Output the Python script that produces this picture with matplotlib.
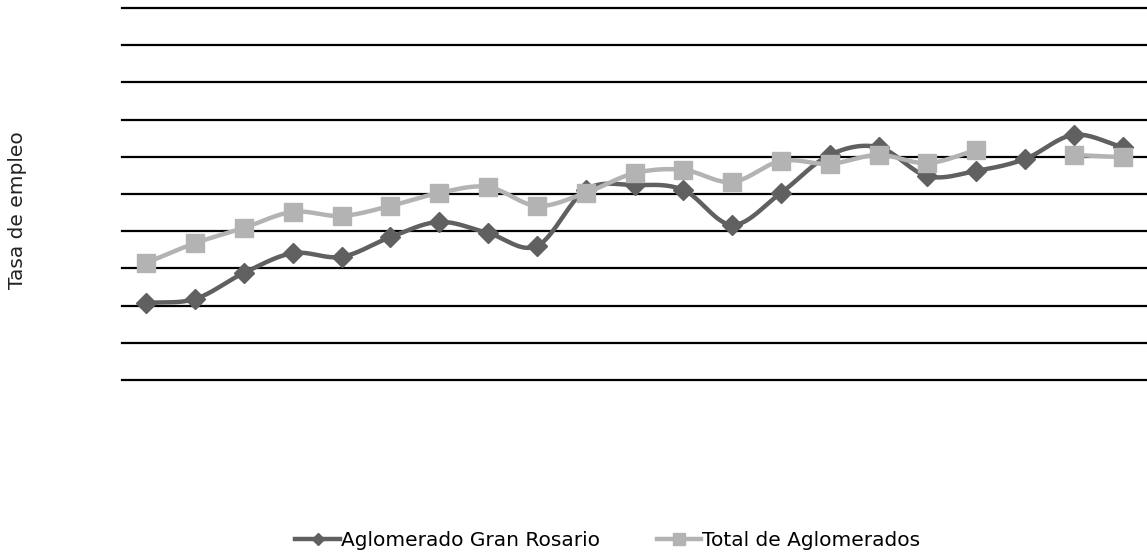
import numpy as np
import matplotlib
matplotlib.use("Agg")
import matplotlib.pyplot as plt
from matplotlib.lines import Line2D

# ---- data (no axis labels shown) ----
periods = list(range(1, 22))
gran_rosario = [37.07, 37.18, 37.88, 38.41, 38.31, 38.84, 39.25, 38.95, 38.60,
                40.11, 40.24, 40.11, 39.17, 40.03, 41.05, 41.26, 40.48, 40.62,
                40.94, 41.59, 41.26]
total_aglom = [38.15, 38.68, 39.09, 39.52, 39.41, 39.68, 40.03, 40.19, 39.68,
               40.03, 40.56, 40.65, 40.32, 40.89, 40.81, 41.05, 40.83, 41.18,
               np.nan, 41.05, 40.99]
y_ticks = list(range(35, 46))
series_names = ["Aglomerado Gran Rosario", "Total de Aglomerados"]

FONT = "DejaVu Sans"


def smooth(xs, ys, n=20):
    """Smoothed line through the points (cubic Bezier segments)."""
    xs = np.asarray(xs, float)
    ys = np.asarray(ys, float)
    out_x, out_y = [], []
    seg = []
    segs = []
    for xv, yv in zip(xs, ys):
        if np.isnan(yv):
            if seg:
                segs.append(seg)
            seg = []
        else:
            seg.append((xv, yv))
    if seg:
        segs.append(seg)
    for s in segs:
        px = np.array([p[0] for p in s])
        py = np.array([p[1] for p in s])
        if len(px) < 2:
            continue
        ext_x = np.concatenate([[2 * px[0] - px[1]], px, [2 * px[-1] - px[-2]]])
        ext_y = np.concatenate([[2 * py[0] - py[1]], py, [2 * py[-1] - py[-2]]])
        sx, sy = [], []
        for i in range(1, len(ext_x) - 2):
            p0x, p1x, p2x, p3x = ext_x[i - 1:i + 3]
            p0y, p1y, p2y, p3y = ext_y[i - 1:i + 3]
            t = np.linspace(0, 1, n, endpoint=False)
            c1x = p1x + (p2x - p0x) / 6
            c1y = p1y + (p2y - p0y) / 6
            c2x = p2x - (p3x - p1x) / 6
            c2y = p2y - (p3y - p1y) / 6
            bx = (1 - t) ** 3 * p1x + 3 * (1 - t) ** 2 * t * c1x + 3 * (1 - t) * t ** 2 * c2x + t ** 3 * p2x
            by = (1 - t) ** 3 * p1y + 3 * (1 - t) ** 2 * t * c1y + 3 * (1 - t) * t ** 2 * c2y + t ** 3 * p2y
            sx.extend(bx)
            sy.extend(by)
        sx.append(px[-1])
        sy.append(py[-1])
        out_x.append(np.array(sx))
        out_y.append(np.array(sy))
    return out_x, out_y


fig = plt.figure(figsize=(11.47, 5.58), dpi=100)
ax = fig.add_axes([122 / 1147, 1 - 380 / 558, 1025 / 1147, 372 / 558])

x = np.arange(len(periods))
dark = "#606060"
light = "#b3b3b3"

for sx, sy in zip(*smooth(x, gran_rosario)):
    ax.plot(sx, sy, color=dark, lw=3.2, solid_capstyle="round", zorder=3)
ax.plot(x, gran_rosario, linestyle="none", marker="D", ms=10.5, color=dark,
        mec=dark, zorder=4)

for sx, sy in zip(*smooth(x, total_aglom)):
    ax.plot(sx, sy, color=light, lw=3.2, solid_capstyle="round", zorder=5)
ax.plot(x, total_aglom, linestyle="none", marker="s", ms=13, color=light,
        mec=light, zorder=6)

ax.set_xlim(-0.5, len(periods) - 0.5)
ax.set_ylim(y_ticks[0], y_ticks[-1])
for yv in y_ticks:
    ax.axhline(yv, color="black", lw=1.6, zorder=1, clip_on=False)
ax.set_xticks([])
ax.set_yticks([])
for sp in ax.spines.values():
    sp.set_visible(False)

fig.text(18 / 1147, 1 - 210 / 558, "Tasa de empleo", rotation=90,
         ha="center", va="center", fontsize=14.5, color="#222222", family=FONT)

handles = [
    Line2D([0], [0], color=dark, lw=3.2, marker="D", ms=6, mec=dark),
    Line2D([0], [0], color=light, lw=3.2, marker="s", ms=8, mec=light),
]
fig.legend(handles, series_names, loc="center", bbox_to_anchor=(608 / 1147, 1 - 541 / 558),
           ncol=2, frameon=False, handlelength=2.2, handletextpad=0.05,
           columnspacing=2.85, prop={"family": FONT, "size": 14.5})

fig.savefig("out.png", dpi=100, facecolor="white")
